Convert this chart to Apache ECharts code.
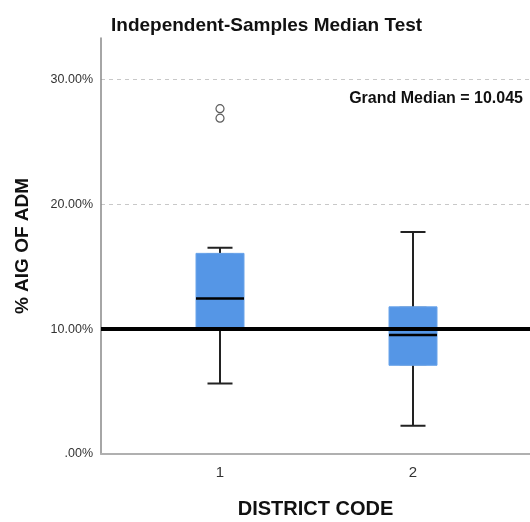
<!DOCTYPE html>
<html>
<head>
<meta charset="utf-8">
<script src="https://cdn.jsdelivr.net/npm/echarts@6/dist/echarts.min.js"></script>
<style>html,body{margin:0;padding:0;background:#fff;}#c{width:530px;height:522px;}</style>
</head>
<body>
<div id="c"></div>
<script>
var categories = ['1', '2'];
var whiskerLow = [5.65, 2.27];
var q1 = [10.14, 7.18];
var median = [12.45, 9.52];
var q3 = [15.98, 11.7];
var whiskerHigh = [16.5, 17.78];
var outlierCategoryIndex = [0, 0];
var outlierValues = [27.64, 26.88];
var grandMedian = 10.045;
var yTicks = [0, 10, 20, 30];

var FONT = 'Liberation Sans, Arial, sans-serif';
var boxData = categories.map(function (c, i) {
  return [whiskerLow[i], q1[i], median[i], q3[i], whiskerHigh[i]];
});
var boxRects = categories.map(function (c, i) { return [i, q1[i], q3[i], median[i]]; });
var outlierData = outlierValues.map(function (v, i) { return [outlierCategoryIndex[i], v]; });

var chart = echarts.init(document.getElementById('c'), null, {renderer: 'canvas'});
chart.setOption({
  animation: false,
  title: [
    {text: 'Independent-Samples Median Test', left: 106, top: 11,
     textStyle: {fontFamily: FONT, fontSize: 19, fontWeight: 'bold', color: '#111'}},
    {text: 'Grand Median = ' + grandMedian, right: 2, top: 86,
     textStyle: {fontFamily: FONT, fontSize: 16, fontWeight: 'bold', color: '#111'}}
  ],
  grid: [
    {left: 101, right: 0, top: 38, bottom: 68, outerBoundsMode: 'none', containLabel: false},
    {left: 123.5, right: 20.5, top: 38, bottom: 68, outerBoundsMode: 'none', containLabel: false}
  ],
  xAxis: [
    {gridIndex: 0, type: 'value', min: 0, max: 1,
     axisLine: {show: true, lineStyle: {color: '#b0b0b0', width: 2}},
     axisTick: {show: false}, axisLabel: {show: false}, splitLine: {show: false},
     name: 'DISTRICT CODE', nameLocation: 'middle', nameGap: 45,
     nameTextStyle: {fontFamily: FONT, fontSize: 20, fontWeight: 'bold', color: '#111'}},
    {gridIndex: 1, type: 'category', data: categories,
     axisLine: {show: false}, axisTick: {show: false},
     axisLabel: {fontFamily: FONT, fontSize: 15, color: '#333', margin: 11},
     splitLine: {show: false}}
  ],
  yAxis: [
    {gridIndex: 0, type: 'value', min: 0, max: 33.3, interval: 10,
     axisLine: {show: true, lineStyle: {color: '#888', width: 1.5}},
     axisTick: {show: false},
     axisLabel: {fontFamily: FONT, fontSize: 12.5, color: '#333', margin: 8,
       formatter: function (v) {
         if (yTicks.indexOf(v) < 0) return '';
         return v === 0 ? '.00%' : v.toFixed(2) + '%';
       }},
     splitLine: {show: true, showMinLine: false, showMaxLine: false,
       lineStyle: {color: '#c8c8c8', type: [4, 4], width: 1}},
     name: '% AIG OF ADM', nameLocation: 'middle', nameGap: 69, nameRotate: 90,
     nameTextStyle: {fontFamily: FONT, fontSize: 19, fontWeight: 'bold', color: '#111'}},
    {gridIndex: 1, type: 'value', min: 0, max: 33.3, show: false, splitLine: {show: false}}
  ],
  series: [
    {type: 'boxplot', xAxisIndex: 1, yAxisIndex: 1, data: boxData, boxWidth: [25, 25], z: 2,
     itemStyle: {color: '#5596e6', borderColor: '#222', borderWidth: 2}},
    {type: 'custom', xAxisIndex: 1, yAxisIndex: 1, data: boxRects, z: 3,
     renderItem: function (params, api) {
       var lo = api.coord([api.value(0), api.value(1)]);
       var hi = api.coord([api.value(0), api.value(2)]);
       var md = api.coord([api.value(0), api.value(3)]);
       var w = 48;
       return {type: 'group', children: [
         {type: 'rect', shape: {x: lo[0] - w / 2, y: hi[1] - 1, width: w, height: lo[1] - hi[1] + 2},
          style: {fill: '#5596e6', stroke: '#6aa4ea', lineWidth: 1}},
         {type: 'line', shape: {x1: lo[0] - w / 2, y1: md[1], x2: lo[0] + w / 2, y2: md[1]},
          style: {stroke: '#000', lineWidth: 2.5}}
       ]};
     }},
    {type: 'scatter', xAxisIndex: 1, yAxisIndex: 1, data: outlierData, z: 4,
     symbol: 'circle', symbolSize: 8,
     itemStyle: {color: '#fff', borderColor: '#333', borderWidth: 1.2}},
    {type: 'line', xAxisIndex: 0, yAxisIndex: 0, data: [], z: 10,
     markLine: {silent: true, symbol: 'none', label: {show: false},
       lineStyle: {color: '#000', width: 4, type: 'solid'},
       data: [{yAxis: grandMedian}]}}
  ]
});
</script>
</body>
</html>
